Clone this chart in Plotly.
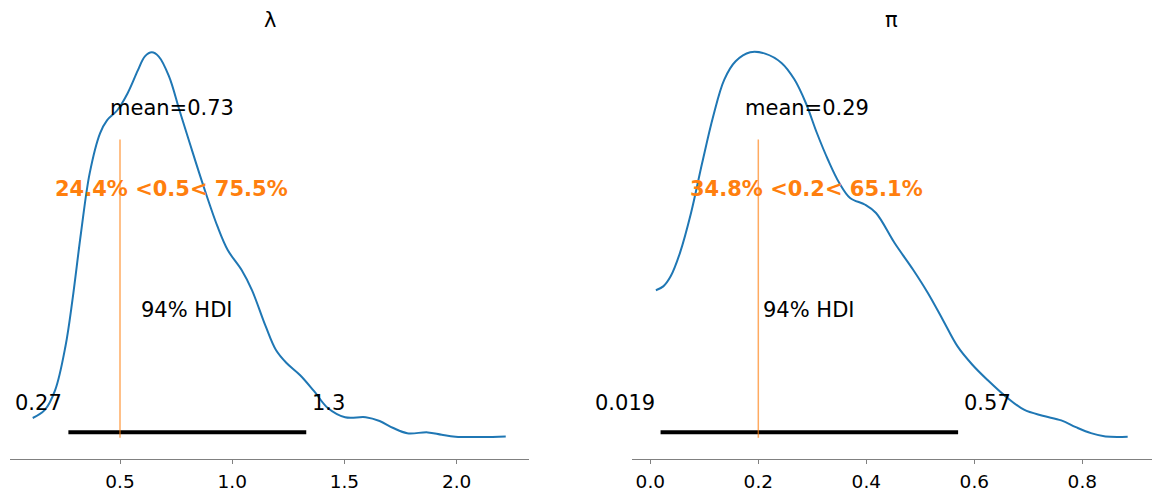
import plotly.graph_objects as go

# ---------------- data ----------------
titles = ["λ", "π"]

lam_x = [0.111, 0.165, 0.211, 0.257, 0.288, 0.326, 0.365, 0.411, 0.442, 0.488,
         0.534, 0.580, 0.611, 0.642, 0.672, 0.718, 0.765, 0.811, 0.872, 0.934,
         0.980, 1.042, 1.088, 1.149, 1.195, 1.242, 1.303, 1.365, 1.426, 1.503,
         1.595, 1.657, 1.718, 1.780, 1.872, 1.934, 1.995, 2.118, 2.219]
lam_y = [0.073, 0.103, 0.176, 0.338, 0.508, 0.755, 0.977, 1.124, 1.172, 1.209,
         1.272, 1.357, 1.408, 1.423, 1.408, 1.335, 1.209, 1.087, 0.929, 0.781,
         0.693, 0.619, 0.545, 0.412, 0.324, 0.276, 0.231, 0.172, 0.110, 0.076,
         0.076, 0.062, 0.036, 0.017, 0.020, 0.011, 0.004, 0.003, 0.005]

pi_x = [0.0103, 0.024, 0.0377, 0.0548, 0.0754, 0.096, 0.1165, 0.137, 0.158, 0.185,
        0.2125, 0.243, 0.267, 0.288, 0.3085, 0.329, 0.350, 0.370, 0.398, 0.418,
        0.4524, 0.4867, 0.514, 0.5416, 0.569, 0.5964, 0.624, 0.658, 0.692, 0.7266,
        0.761, 0.788, 0.816, 0.843, 0.884]
pi_y = [0.983, 1.009, 1.076, 1.231, 1.498, 1.831, 2.143, 2.387, 2.509, 2.569,
        2.560, 2.498, 2.387, 2.231, 2.031, 1.853, 1.698, 1.598, 1.553, 1.498,
        1.298, 1.120, 0.965, 0.787, 0.609, 0.487, 0.387, 0.276, 0.187, 0.147,
        0.116, 0.071, 0.031, 0.009, 0.007]

hdi_lam = [0.27, 1.33]
hdi_pi = [0.019, 0.57]
means = [0.73, 0.29]
ref_vals = [0.5, 0.2]
ref_below = [24.4, 34.8]
ref_above = [75.5, 65.1]
hdi_prob = 94

lam_ticks = [0.5, 1.0, 1.5, 2.0]
pi_ticks = [0.0, 0.2, 0.4, 0.6, 0.8]
xranges = [[0.0098, 2.324], [-0.0339, 0.9285]]

# ---------------- figure ----------------
BLUE = "#1f77b4"
ORANGE = "#ff7f0e"
FONT = "DejaVu Sans"
W, H = 1160, 497

fig = go.Figure()
panels = [(lam_x, lam_y, hdi_lam, lam_ticks), (pi_x, pi_y, hdi_pi, pi_ticks)]
domains = [[10 / W, 529.3 / W], [632 / W, 1151.7 / W]]

annotations = []
shapes = []
BASE = -8  # shift so bottom-anchored text sits on its baseline

for i, (xs, ys, hdi, ticks) in enumerate(panels):
    xa = "x" if i == 0 else "x2"
    ya = "y" if i == 0 else "y2"
    axn = "" if i == 0 else "2"
    ymax = max(ys)
    top = 1.05 * ymax
    bot = -0.055 * ymax

    fig.add_trace(go.Scatter(x=xs, y=ys, mode="lines", line=dict(color=BLUE, width=2, shape="spline", smoothing=1.0),
                             xaxis=xa, yaxis=ya, showlegend=False, hoverinfo="skip"))
    # HDI bar
    fig.add_trace(go.Scatter(x=hdi, y=[0.014 * top, 0.014 * top], mode="lines", line=dict(color="black", width=4),
                             xaxis=xa, yaxis=ya, showlegend=False, hoverinfo="skip"))

    # reference line
    shapes.append(dict(type="line", xref=xa, yref=f"y{axn} domain", x0=ref_vals[i], x1=ref_vals[i],
                       y0=0.05, y1=0.75, line=dict(color=ORANGE, width=1.5), opacity=0.65))

    txt = dict(showarrow=False, xref=xa, yref=ya, yanchor="bottom", yshift=BASE,
               font=dict(family=FONT, size=21, color="black"))
    annotations.append(dict(txt, x=hdi[0], y=0.07 * top, text=f"{hdi[0]:.2g}", xanchor="right", xshift=-4))
    annotations.append(dict(txt, x=hdi[1], y=0.07 * top, text=f"{hdi[1]:.2g}", xanchor="left", xshift=4))
    annotations.append(dict(txt, x=(hdi[0] + hdi[1]) / 2, y=0.3 * top, text=f"{hdi_prob}% HDI", xanchor="center"))
    annotations.append(dict(txt, x=means[i], y=0.8 * top, text=f"mean={means[i]:.2f}", xanchor="center"))
    annotations.append(dict(txt, x=means[i], y=0.6 * top,
                            text=f"<b>{ref_below[i]:.1f}% &lt;{ref_vals[i]:g}&lt; {ref_above[i]:.1f}%</b>",
                            xanchor="center", font=dict(family=FONT, size=21, color=ORANGE)))
    # title
    annotations.append(dict(showarrow=False, xref=f"x{axn} domain", yref=f"y{axn} domain", x=0.5, y=1.0,
                            yanchor="bottom", yshift=-1, text=titles[i],
                            font=dict(family=FONT, size=21, color="black")))

    fig.update_layout(**{
        f"xaxis{axn}": dict(domain=domains[i], range=xranges[i], showgrid=False, zeroline=False,
                            showline=True, linecolor="#808080", linewidth=1,
                            ticks="outside", ticklen=4, tickcolor="#808080", tickwidth=1,
                            tickvals=ticks, ticktext=[f"{t:.1f}" for t in ticks],
                            tickfont=dict(family=FONT, size=18.5, color="black"),
                            ticklabelstandoff=2,
                            anchor=ya, fixedrange=True),
        f"yaxis{axn}": dict(range=[bot, top], visible=False, showgrid=False, zeroline=False,
                            anchor=xa, domain=[0, 1], fixedrange=True),
    })

fig.update_layout(width=W, height=H, margin=dict(l=0, r=0, t=33, b=38),
                  plot_bgcolor="white", paper_bgcolor="white",
                  annotations=annotations, shapes=shapes, showlegend=False,
                  font=dict(family=FONT))

fig.write_html("out.html")
